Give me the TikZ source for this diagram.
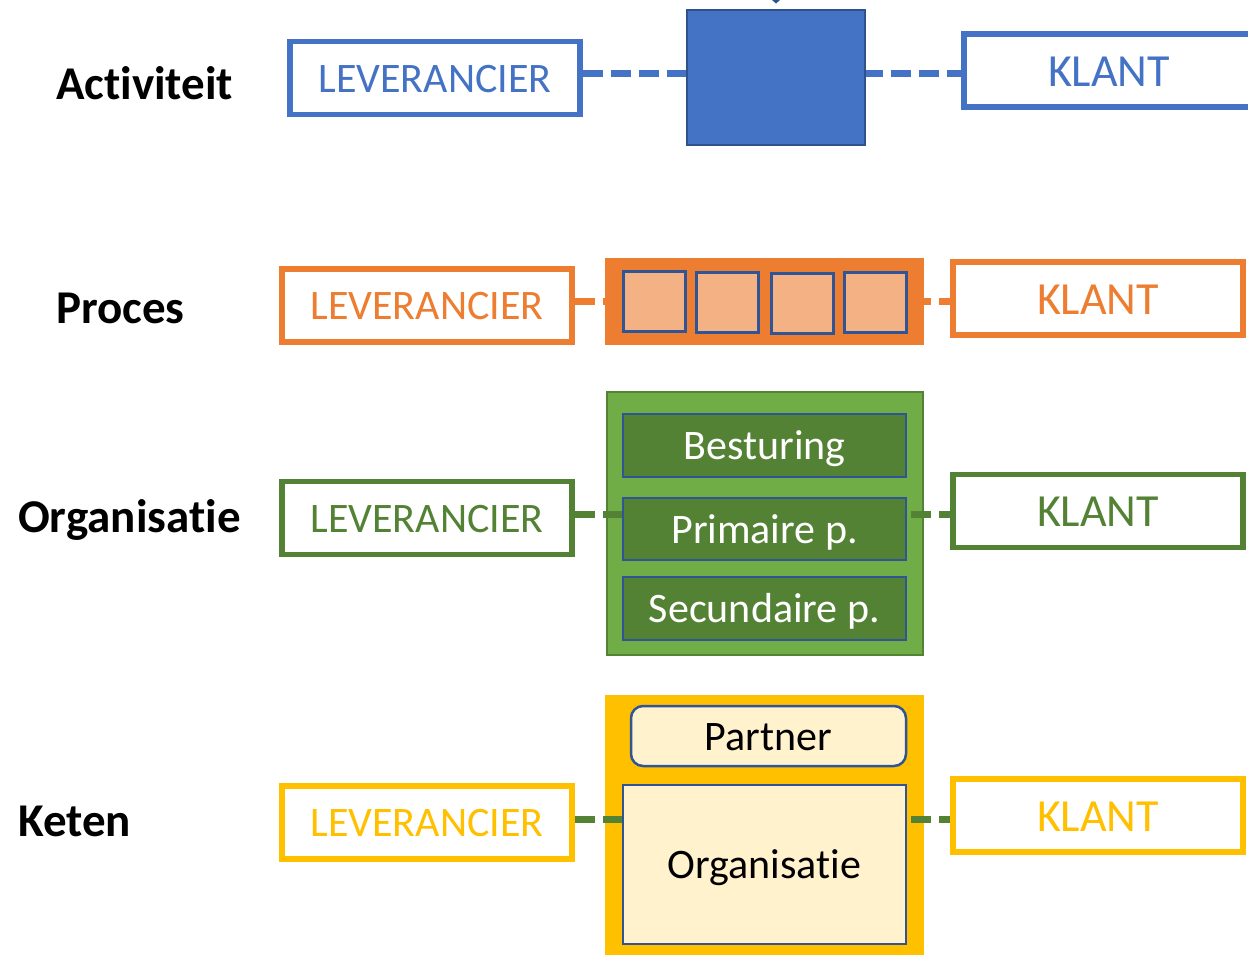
\documentclass[tikz,border=0pt]{standalone}
\usepackage{fontspec}
\setmainfont[Ligatures=NoCommon]{Carlito}
\definecolor{cblue}{HTML}{4472C4}
\definecolor{cdblue}{HTML}{2F528F}
\definecolor{cinb}{HTML}{2F5597}
\definecolor{corange}{HTML}{ED7D31}
\definecolor{clorange}{HTML}{F4B183}
\definecolor{cgreen}{HTML}{70AD47}
\definecolor{cdgreen}{HTML}{548235}
\definecolor{cyellow}{HTML}{FFC000}
\definecolor{clyellow}{HTML}{FFF2CC}
\begin{document}
\begin{tikzpicture}[x=1pt,y=-1pt,
  rowlabel/.style={anchor=base west,inner sep=0pt,font=\fontsize{47}{52}\selectfont\bfseries},
  endbox/.style={draw=#1,line width=5.5pt,fill=white,text=#1,inner sep=0pt},
  levbox/.style={endbox=#1,minimum width=290pt,minimum height=73pt,font=\fontsize{42}{48}\selectfont,text height=40pt,text depth=11.3pt},
  klantbox/.style={endbox=#1,minimum width=290pt,minimum height=73pt,font=\fontsize{46}{52}\selectfont,text height=43.7pt,text depth=12.4pt},
  conn/.style={draw=#1,line width=7pt,dash pattern=on 20pt off 8pt},
  innerbox/.style={draw=cinb,line width=2.5pt,inner sep=0pt,font=\fontsize{42}{48}\selectfont,text height=40pt,text depth=11.3pt},
  sqbox/.style={draw=cinb,line width=3pt,fill=clorange,minimum width=62pt,minimum height=60pt,inner sep=0pt}]
\useasboundingbox (0,0) rectangle (1248,956);
\clip (0,0) rectangle (1248,956);

% ---- Activiteit ----
\node[rowlabel] (l1) at (56,99) {Activiteit};
\node[levbox=cblue] (lev1) at (435,78) {LEVERANCIER};
\node[klantbox=cblue] (kl1) at (1109,70.5) {KLANT};
\draw[conn=cblue] (lev1.east |- 0,73) -- (kl1.west |- 0,73);
\node[draw=cdblue,line width=2pt,fill=cblue,minimum width=178pt,minimum height=135pt,inner sep=0pt] (act) at (776,77.5) {};
\fill[cdblue] (772,0) -- (780,0) -- (776,3.5) -- cycle;

% ---- Proces ----
\node[rowlabel] (l2) at (56,323) {Proces};
\node[levbox=corange] (lev2) at (427,305.5) {LEVERANCIER};
\node[klantbox=corange] (kl2) at (1098,298.5) {KLANT};
\node[fill=corange,minimum width=319pt,minimum height=87pt,inner sep=0pt] (proc) at (764.5,301.5) {};
\draw[conn=corange] (lev2.east |- 0,301) -- (kl2.west |- 0,301);
\node[sqbox] (s1) at (654.5,301.5) {};
\node[sqbox] (s2) at (727.5,302.5) {};
\node[sqbox] (s3) at (802.5,303.5) {};
\node[sqbox] (s4) at (875,302.5) {};

% ---- Organisatie ----
\node[rowlabel] (l3) at (18,532) {Organisatie};
\node[levbox=cdgreen] (lev3) at (427,518) {LEVERANCIER};
\node[klantbox=cdgreen] (kl3) at (1098,511) {KLANT};
\node[draw=cdgreen,line width=2.5pt,fill=cgreen,minimum width=316pt,minimum height=263pt,inner sep=0pt] (org) at (765,523.5) {};
\draw[conn=cdgreen] (lev3.east |- 0,514) -- (kl3.west |- 0,514);
\node[innerbox,fill=cdgreen,text=white,minimum width=283pt,minimum height=63pt] (best) at (764.5,445.5) {Besturing};
\node[innerbox,fill=cdgreen,text=white,minimum width=283pt,minimum height=62pt] (prim) at (764.5,529) {Primaire p.};
\node[innerbox,fill=cdgreen,text=white,minimum width=283pt,minimum height=63pt] (sec) at (764.5,608.5) {Secundaire p.};

% ---- Keten ----
\node[rowlabel] (l4) at (18,836) {Keten};
\node[levbox=cyellow] (lev4) at (427,822.5) {LEVERANCIER};
\node[klantbox=cyellow] (kl4) at (1098,815.5) {KLANT};
\node[fill=cyellow,minimum width=319pt,minimum height=260pt,inner sep=0pt] (ket) at (764.5,825) {};
\draw[conn=cdgreen] (lev4.east |- 0,819) -- (kl4.west |- 0,819);
\node[innerbox,fill=clyellow,rounded corners=12pt,minimum width=275pt,minimum height=60pt] (part) at (768.5,736) {Partner};
\node[innerbox,fill=clyellow,minimum width=283pt,minimum height=159pt] (korg) at (764.5,864.5) {Organisatie};
\end{tikzpicture}
\end{document}
